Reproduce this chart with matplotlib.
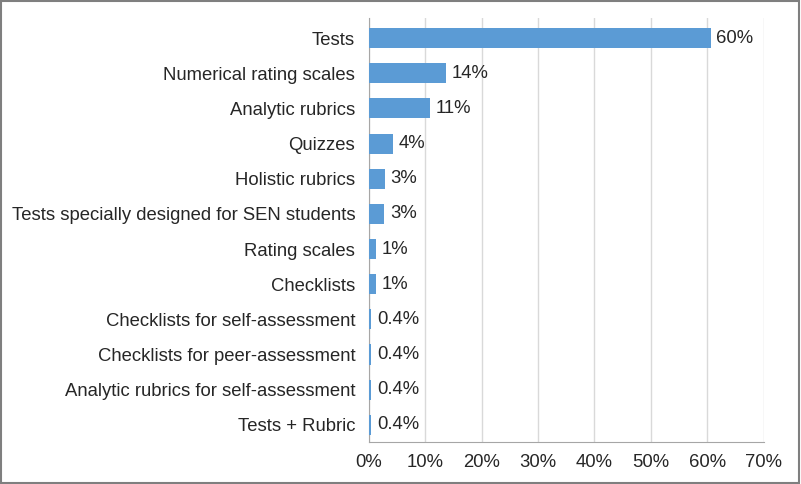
import matplotlib.pyplot as plt
from matplotlib.patches import Rectangle

categories = ["Tests", "Numerical rating scales", "Analytic rubrics", "Quizzes",
              "Holistic rubrics", "Tests specially designed for SEN students",
              "Rating scales", "Checklists", "Checklists for self-assessment",
              "Checklists for peer-assessment", "Analytic rubrics for self-assessment",
              "Tests + Rubric"]
values = [60.6, 13.7, 10.8, 4.2, 2.8, 2.7, 1.2, 1.2, 0.4, 0.4, 0.4, 0.4]
labels = ["60%", "14%", "11%", "4%", "3%", "3%", "1%", "1%", "0.4%", "0.4%", "0.4%", "0.4%"]

plt.rcParams['font.family'] = ['Liberation Sans', 'DejaVu Sans']

fig = plt.figure(figsize=(8.01, 4.84), dpi=100)
ax = fig.add_axes([0.4607, 0.0874, 0.4925, 0.8754])

y = list(range(len(categories)))
ax.barh(y, values, height=0.57, color='#5B9BD5', zorder=3)
for yi, v, lab in zip(y, values, labels):
    ax.annotate(lab, (v, yi), xytext=(4, 0), textcoords='offset points',
                va='center', ha='left', fontsize=13.3, color='#262626', zorder=4)

ax.set_yticks(y)
ax.set_yticklabels(categories, fontsize=13.3, color='#262626')
ax.set_ylim(11.48, -0.57)
ax.set_xlim(0, 70)
ax.set_xticks(range(0, 71, 10))
ax.set_xticklabels([f"{t}%" for t in range(0, 71, 10)], fontsize=13.3, color='#262626')
ax.tick_params(axis='y', length=0, pad=10)
ax.tick_params(axis='x', length=0, pad=9)
ax.grid(axis='x', color='#D9D9D9', linewidth=1, zorder=0)
for s in ['top', 'right']:
    ax.spines[s].set_visible(False)
ax.spines['left'].set_color('#A6A6A6')
ax.spines['bottom'].set_color('#A6A6A6')

fig.patches.append(Rectangle((0.001, 0.002), 0.997, 0.995, transform=fig.transFigure,
                             fill=False, edgecolor='#7F7F7F', linewidth=1.5))

fig.savefig("out.png", dpi=100)
